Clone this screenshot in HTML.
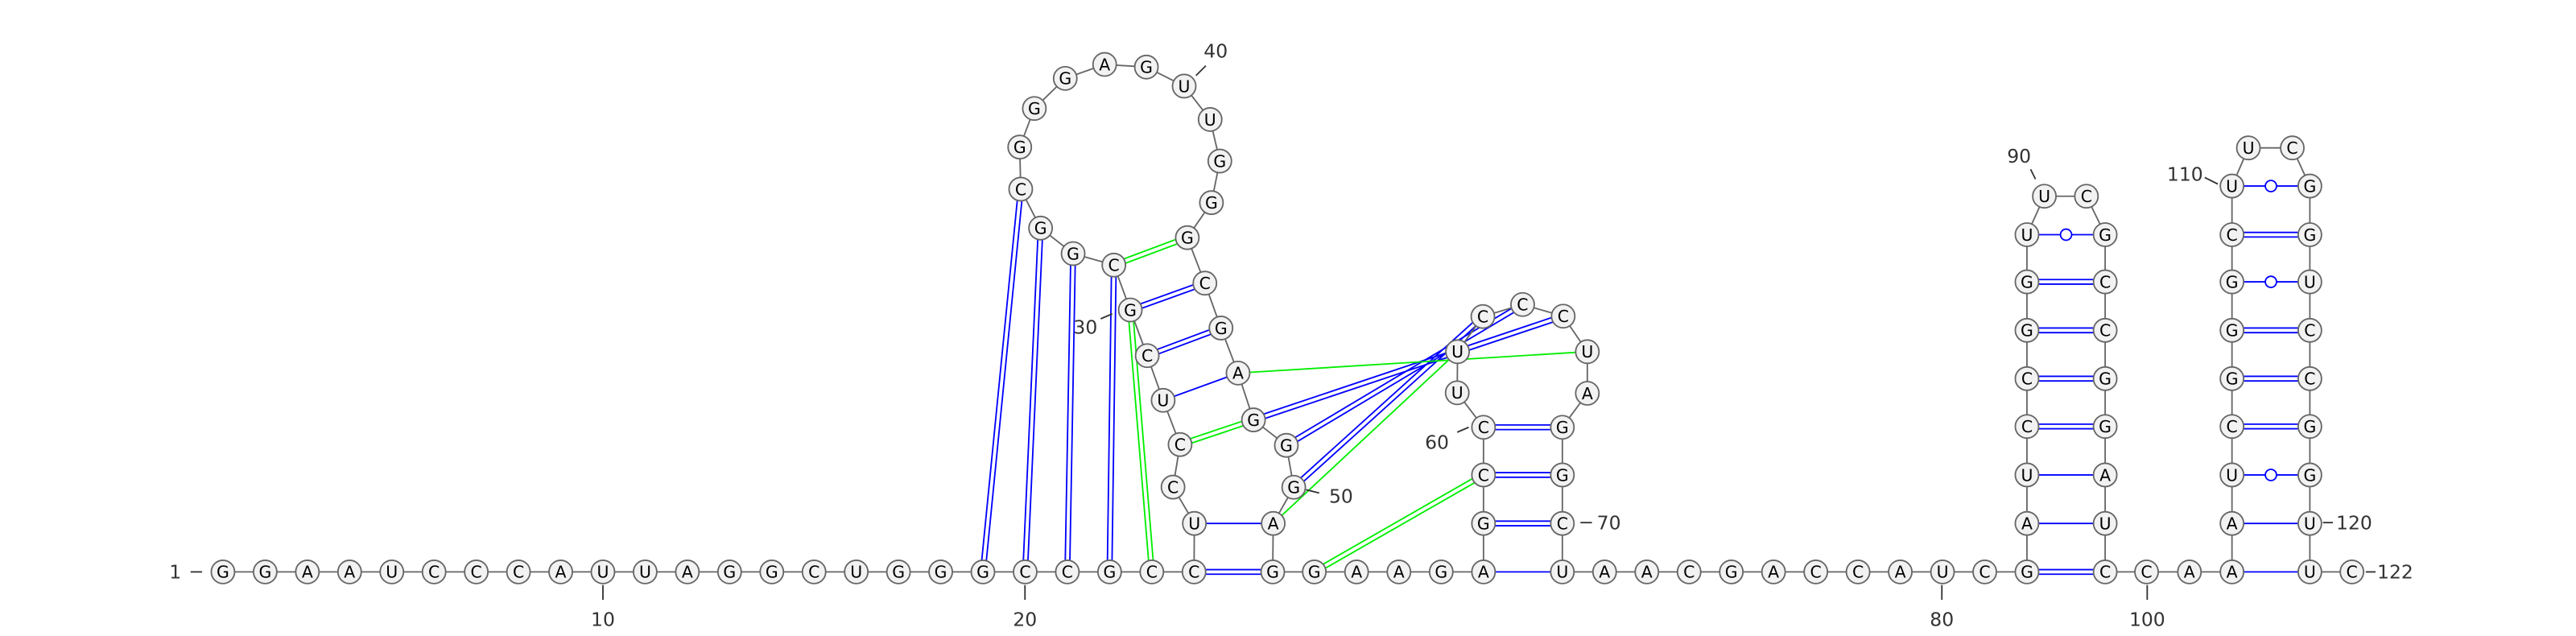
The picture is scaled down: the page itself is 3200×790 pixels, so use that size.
<!DOCTYPE html>
<html><head><meta charset="utf-8"><title>RNA secondary structure</title>
<style>
html,body{margin:0;padding:0;background:#fff;}
svg{display:block;}
</style></head>
<body>
<svg id="chart" xmlns="http://www.w3.org/2000/svg" width="3200" height="790" viewBox="0 0 1568 387" preserveAspectRatio="none">
<g id="pairs"></g>
<g id="backbone"></g>
<g id="nts"></g>
<g id="labels"></g>
</svg>
<script>
const sequence = "GGAAUCCCAUUAGGCUGGGCCGCC" + "UCCUCGCGGCGGGAGUUGGGCGAGGGAG" + "GAAGA" + "GCCUUCCCUAGGCU" + "AACGACCAUCG" + "AUCCGGUUCGCCGGAUC" + "CAA" + "AUCGGGCUUCGGUCCGGUUC";
// layout coordinates (structure drawing positions)
const posX = [];
const posY = [];
(function(){
  const B = 348;
  for (let i = 0; i < 24; i++) { posX.push(135.7 + i * 25.7); posY.push(B); }
  const loop1 = [[727,318.5],[714,296.4],[718.3,270.5],[708,243.6],[698.3,216.4],[688,188.6],[678,161.3],[653.2,154.3],[633.4,138.8],[621.3,115.1],[620.7,89.5],[629.6,66],[648.4,47.7],[672.4,39.2],[697.8,40.8],[720.8,52.4],[736.6,72.7],[742.5,98],[737.4,123.3],[722.7,144.6],[733.4,172.3],[743.2,199.6],[753.6,227],[763,255.5],[783,271],[787.5,296.5],[775,318.5],[774.7,348]];
  loop1.forEach(p => { posX.push(p[0]); posY.push(p[1]); });
  for (let i = 0; i < 5; i++) { posX.push(800 + i * 25.75); posY.push(B); }
  const loop2 = [[903,318.5],[903,289],[903,260],[887,239],[887.2,214],[902.6,192.6],[926.8,185.3],[951.5,192.4],[966.2,214],[966.2,239.3],[951,260],[951,289],[951,318.5],[951,348]];
  loop2.forEach(p => { posX.push(p[0]); posY.push(p[1]); });
  for (let i = 1; i <= 11; i++) { posX.push(951 + i * 25.71); posY.push(B); }
  const xl = 1233.8, xr = 1281.4;
  const rows = [318.5,289,259.5,230.4,201,171.5,142.8];
  rows.forEach(y => { posX.push(xl); posY.push(y); });
  posX.push(1244.4); posY.push(119.4);
  posX.push(1270); posY.push(119.4);
  rows.slice().reverse().forEach(y => { posX.push(xr); posY.push(y); });
  posX.push(xr); posY.push(B);
  posX.push(1306.6); posY.push(B);
  posX.push(1332.7); posY.push(B);
  posX.push(1358.6); posY.push(B);
  const yl = [318.5,289,259.5,230.4,201,171.5,142.8,113.2];
  yl.forEach(y => { posX.push(1358.6); posY.push(y); });
  posX.push(1368.6); posY.push(90);
  posX.push(1395.3); posY.push(90);
  yl.slice().reverse().forEach(y => { posX.push(1406); posY.push(y); });
  posX.push(1406); posY.push(B);
  posX.push(1431.6); posY.push(B);
})();
// pairs: i, j (1-based), color
const pairI = [19,20,21,22,24,25,28,29,30,48,49,50,57,58,59,60,82,83,84,85,86,87,88,89,102,103,104,105,106,107,108,109,110, 31,30,27,51,47,53];
const pairJ = [34,33,32,31,52,51,47,46,45,65,64,63,71,70,69,68,99,98,97,96,95,94,93,92,121,120,119,118,117,116,115,114,113, 44,23,48,62,66,59];
const pairColor = ["b","b","b","b","b","b","b","b","b","b","b","b","b","b","b","b","b","b","b","b","b","b","b","b","b","b","b","b","b","b","b","b","b","g","g","g","g","g","g"];

const NS = "http://www.w3.org/2000/svg";
function mk(tag, attrs, parent){ const e = document.createElementNS(NS, tag); for (const k in attrs) e.setAttribute(k, attrs[k]); parent.appendChild(e); return e; }
const gP = document.getElementById('pairs'), gB = document.getElementById('backbone'), gN = document.getElementById('nts'), gL = document.getElementById('labels');

for (let k = 0; k < pairI.length; k++) {
  const i = pairI[k]-1, j = pairJ[k]-1;
  const a = sequence[i], b = sequence[j];
  const col = pairColor[k] === "g" ? "#00ee00" : "#0000ff";
  const x1 = posX[i], y1 = posY[i], x2 = posX[j], y2 = posY[j];
  const dx = x2-x1, dy = y2-y1, L = Math.hypot(dx,dy), nx = -dy/L, ny = dx/L;
  const g = mk('g', {}, gP);
  
  
  const pr = (a+b);
  const gc = (pr === "GC" || pr === "CG");
  const gu = (pr === "GU" || pr === "UG");
  if (gc) {
    [1.4,-1.4].forEach(o => mk('line', {x1:x1+nx*o, y1:y1+ny*o, x2:x2+nx*o, y2:y2+ny*o, stroke:col, 'stroke-width':0.9}, g));
  } else {
    mk('line', {x1:x1, y1:y1, x2:x2, y2:y2, stroke:col, 'stroke-width':0.9}, g);
    if (gu) {
      mk('circle', {cx:(x1+x2)/2, cy:(y1+y2)/2, r:3.4, fill:'#fff', stroke:col, 'stroke-width':0.9}, g);
    }
  }
}
for (let i = 0; i < sequence.length-1; i++) {
  const l = mk('line', {x1:posX[i], y1:posY[i], x2:posX[i+1], y2:posY[i+1], stroke:'#666', 'stroke-width':0.9}, gB);
  
  
}
for (let i = 0; i < sequence.length; i++) {
  const g = mk('g', {}, gN);
  
  
  mk('circle', {cx:posX[i], cy:posY[i], r:7.1, fill:'#f2f2f2', stroke:'#666', 'stroke-width':0.9}, g);
  const t = mk('text', {x:posX[i], y:posY[i]+3.6, 'text-anchor':'middle', 'font-family':'"DejaVu Sans", "Liberation Sans", sans-serif', 'font-size':10, fill:'#000'}, g);
  t.textContent = sequence[i];
}
const labelText = ["1","10","20","30","40","50","60","70","80","90","100","110","120","122"];
const labelPos = [[103,352,"start"],[367,381,"middle"],[623.9,381,"middle"],[668,203,"end"],[740,35,"middle"],[809,306,"start"],[882,273,"end"],[972,322,"start"],[1182,381,"middle"],[1229,99,"middle"],[1307,381,"middle"],[1341,110,"end"],[1422,322,"start"],[1447,352,"start"]];
const tickSeg = [[116,348,123,348],[367,356,367,365],[623.9,356,623.9,365],[670,194,677,191],[728,46,734,40],[795,298,803,300],[887,263,894,260],[962,318,969,318],[1182,356,1182,365],[1236,103,1239,109],[1307,356,1307,365],[1342,108,1350,112],[1414,318,1420,318],[1440,348,1446,348]];
labelText.forEach((s, k) => {
  const g = mk('g', {}, gL);
  
  
  const t = tickSeg[k];
  mk('line', {x1:t[0], y1:t[1], x2:t[2], y2:t[3], stroke:'#333', 'stroke-width':0.9}, g);
  const p = labelPos[k];
  const tx = mk('text', {x:p[0], y:p[1], 'text-anchor':p[2], 'font-family':'"DejaVu Sans", "Liberation Sans", sans-serif', 'font-size':11.5, fill:'#333'}, g);
  tx.textContent = s;
});
</script>
</body></html>
